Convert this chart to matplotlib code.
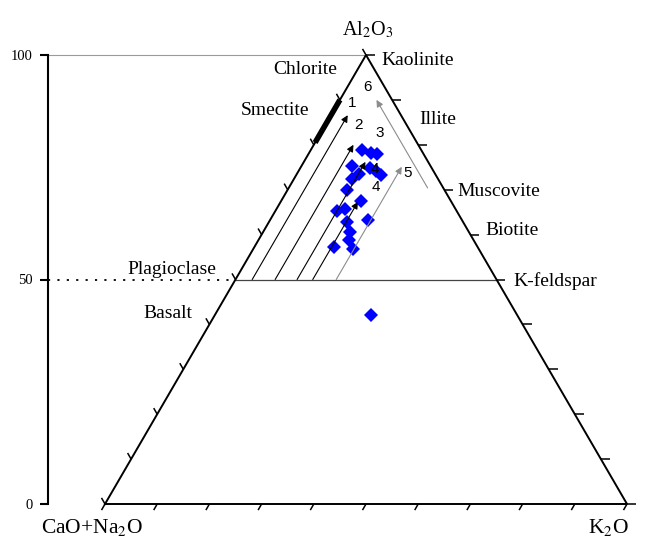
import numpy as np
import matplotlib
matplotlib.use("Agg")
import matplotlib.pyplot as plt

plt.rcParams['font.family'] = ['Liberation Serif', 'DejaVu Serif']
plt.rcParams['mathtext.fontset'] = 'stix'

# Sample compositions (molar %, normalised to 100)
al2o3 = [78.8, 78.2, 78.0, 75.3, 73.5, 72.4, 74.8, 74.2, 73.3, 69.9,
         67.5, 65.2, 65.7, 63.2, 62.7, 60.5, 58.8, 57.2, 56.8, 42.1]
cao_na2o = [11.4, 9.9, 8.9, 15.0, 14.6, 16.5, 11.8, 11.0, 10.5, 18.7,
            17.2, 23.0, 21.1, 18.0, 22.3, 22.8, 23.9, 27.5, 24.1, 28.0]
k2o = [9.8, 11.9, 13.1, 9.7, 11.9, 11.1, 13.4, 14.8, 16.2, 11.4,
       15.3, 11.8, 13.2, 18.8, 15.0, 16.7, 17.3, 15.3, 19.1, 29.9]

# Weathering trends 1-5: constant K2O, rising from the feldspar join (A = 50)
trend_k2o = [3.2, 7.6, 11.8, 14.8, 19.3]
trend_a_start = [50, 50, 50, 50, 50]
trend_a_end = [86.6, 80.0, 76.2, 67.3, 75.1]
trend_colors = ['black', 'black', 'black', 'black', '#8c8c8c']
# Trend 6: constant CaO+Na2O, K2O loss toward Al2O3
trend6_cn = 3.0
trend6_a = [70.4, 90.0]

# Trend numbers (label, Al2O3, K2O position)
num_labels = ['1', '2', '3', '4', '4', '5', '6']
num_a = [89.4, 84.4, 82.6, 74.5, 70.7, 73.8, 92.8]
num_x = [47.3, 48.5, 52.7, 51.7, 51.9, 57.9, 50.3]

# Reference minerals on the right side (Al2O3 level)
right_minerals = ['Kaolinite', 'Illite', 'Muscovite', 'Biotite', 'K-feldspar']
right_a = [98.7, 85.7, 69.6, 60.9, 49.7]
right_x = [52.9, 60.2, 67.6, 72.8, 78.2]
left_minerals = ['Chlorite', 'Smectite', 'Plagioclase', 'Basalt']
left_a = [96.7, 87.6, 52.2, 42.5]
left_x = [38.3, 32.6, 12.8, 12.1]

# Chlorite/smectite range on the A-CN join
smectite_a = [80.5, 90.0]


def proj(a, k):
    a = np.asarray(a, float)
    k = np.asarray(k, float)
    return k + a / 2.0, a


W, H = 659, 540
fig = plt.figure(figsize=(W / 100, H / 100), dpi=100)
ax = fig.add_axes([0, 0, 1, 1])

# pixel layout of the triangle
x0p, x1p, y0p, y1p = 105.0, 627.0, 504.0, 55.0
sx = (x1p - x0p) / 100.0
sy = (y0p - y1p) / 100.0
ax.set_xlim(-x0p / sx, (W - x0p) / sx)
ax.set_ylim((y0p - H) / sy, y0p / sy)

# vertical Al2O3 scale
axis_x = (48 - x0p) / sx
for s in ['top', 'right', 'bottom']:
    ax.spines[s].set_visible(False)
ax.spines['left'].set_position(('data', axis_x))
ax.spines['left'].set_bounds(0, 100)
ax.spines['left'].set_linewidth(1.5)
ax.set_xticks([])
ax.set_yticks([0, 50, 100])
ax.tick_params(axis='y', length=6, width=1.5, pad=5, labelsize=10.5)
ax.patch.set_alpha(0)

# guide lines
ax.plot([axis_x, 50], [100, 100], color='#9a9a9a', lw=0.8, zorder=1)
ax.plot([axis_x, 25], [50, 50], color='black', lw=1.3,
        linestyle=(0, (1.2, 4.0)), zorder=1)
ax.plot([25, 75], [50, 50], color='#444444', lw=0.9, zorder=2)

# triangle frame
ax.plot([0, 100, 50, 0], [0, 0, 100, 0], color='black', lw=1.4,
        solid_joinstyle='miter', zorder=3)


def tick(xd, yd, dxp, dyp, lw=1.1):
    ax.plot([xd, xd + dxp / sx], [yd, yd + dyp / sy], color='black',
            lw=lw, zorder=3, solid_capstyle='butt')


for v in range(0, 101, 10):
    # left side (A-CN join)
    xl, yl = proj(v, 0)
    tick(float(xl), float(yl), -3.5, 6.1)
    # right side (A-K join)
    xr, yr = proj(v, 100 - v)
    tick(float(xr), float(yr), 9.0, 0.0)
    # base (CN-K join)
    tick(float(v), 0.0, -3.5, -6.1)

# chlorite / smectite bar
bx, by = proj(smectite_a, [0, 0])
ax.plot(bx, by, color='black', lw=4.0, solid_capstyle='butt', zorder=4)

# samples
sxd, syd = proj(al2o3, k2o)
ax.plot(sxd, syd, 'D', color='#0000ff', ms=6.8, mew=0, zorder=5)

# weathering trends
for kk, a0, a1, c in zip(trend_k2o, trend_a_start, trend_a_end, trend_colors):
    p0 = proj(a0, kk)
    p1 = proj(a1, kk)
    ax.annotate('', xy=(float(p1[0]), float(p1[1])),
                xytext=(float(p0[0]), float(p0[1])),
                arrowprops=dict(arrowstyle='-|>', color=c, lw=0.8,
                                mutation_scale=10, shrinkA=0, shrinkB=0),
                zorder=6)
k6 = [100 - trend6_cn - a for a in trend6_a]
q0 = proj(trend6_a[0], k6[0])
q1 = proj(trend6_a[1], k6[1])
ax.annotate('', xy=(float(q1[0]), float(q1[1])),
            xytext=(float(q0[0]), float(q0[1])),
            arrowprops=dict(arrowstyle='-|>', color='#8c8c8c', lw=0.8,
                            mutation_scale=10, shrinkA=0, shrinkB=0),
            zorder=6)

for t, xv, av in zip(num_labels, num_x, num_a):
    ax.text(xv, av, t, family=['Liberation Sans', 'DejaVu Sans'],
            fontsize=11, ha='center', va='center', zorder=7)

for t, xv, av in zip(right_minerals, right_x, right_a):
    ax.text(xv, av, t, fontsize=14, ha='left', va='center', zorder=7)
for t, xv, av in zip(left_minerals, left_x, left_a):
    ax.text(xv, av, t, fontsize=14, ha='center', va='center', zorder=7)

# apex and corner names
ax.text((368 - x0p) / sx, (y0p - 35) / sy, 'Al$_2$O$_3$', fontsize=14.5,
        ha='center', va='baseline')
ax.text((92 - x0p) / sx, (y0p - 533) / sy, 'CaO+Na$_2$O', fontsize=15.5,
        ha='center', va='baseline')
ax.text((609 - x0p) / sx, (y0p - 533) / sy, 'K$_2$O', fontsize=15.5,
        ha='center', va='baseline')

fig.savefig('out.png', dpi=100)
